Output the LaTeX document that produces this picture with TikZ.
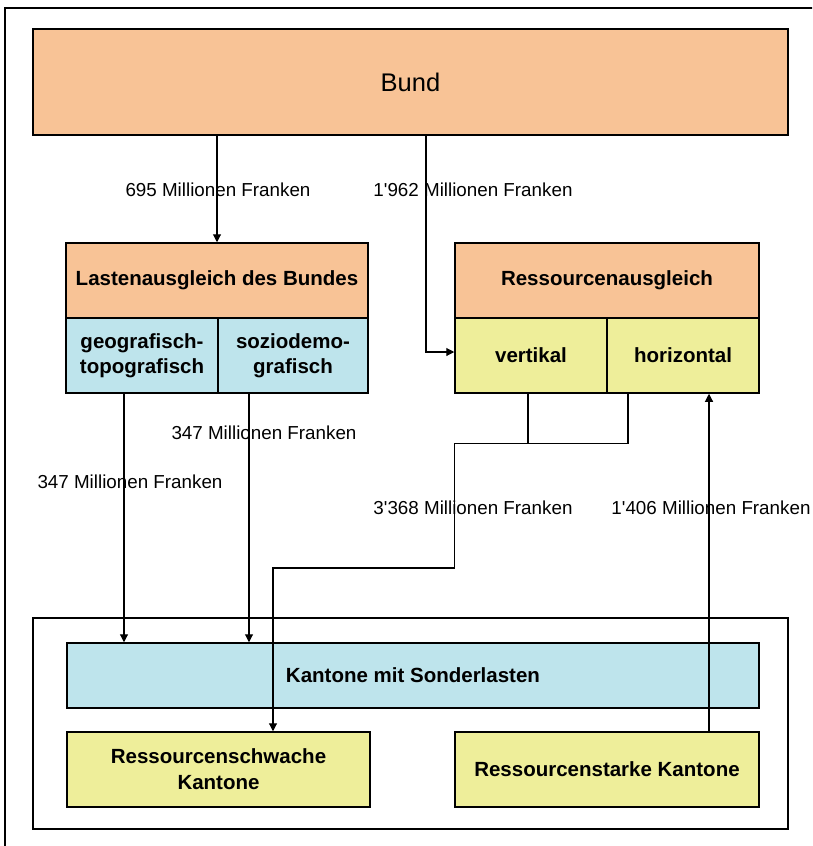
\documentclass[tikz,border=0pt]{standalone}
\usepackage{fontspec}
\setmainfont{Liberation Sans}
\usetikzlibrary{arrows.meta}
\definecolor{bundorange}{HTML}{F8C396}
\definecolor{lastblue}{HTML}{BEE4EC}
\definecolor{resyellow}{HTML}{EEEE9A}

\begin{document}
\begin{tikzpicture}[x=1pt,y=-1pt,>={Triangle[length=8pt,width=8pt]},
  box/.style={draw,line width=1.5pt,minimum width=#1,minimum height=75pt,inner sep=0pt,
    align=center,font=\bfseries\fontsize{20.5}{25}\selectfont},
  box/.default=152pt,
  betrag/.style={inner sep=0pt,font=\fontsize{18.8}{22}\selectfont},
  leitung/.style={line width=1.1pt},
  flow/.style={->,line width=1.1pt}]

\useasboundingbox (0,0) rectangle (812,846);
\clip (0,0) rectangle (812,846);

% outer frame
\draw[line width=2pt] (5,8) rectangle (840,880);

% Bund
\node[box=755pt,minimum height=106pt,fill=bundorange,font=\fontsize{25.5}{28}\selectfont] (bund) at (410.5,82) {Bund};

% Lastenausgleich des Bundes
\node[box=302pt,fill=bundorange] (lasten) at (217,280.5) {Lastenausgleich des Bundes};
\node[box,fill=lastblue] (geo) at (142,355.5) {geografisch-\\topografisch};
\node[box=150pt,fill=lastblue] (sozio) at (293,355.5) {soziodemo-\\grafisch};

% Ressourcenausgleich
\node[box=304pt,fill=bundorange] (ress) at (607,280.5) {Ressourcenausgleich};
\node[box,fill=resyellow] (vert) at (531,355.5) {vertikal};
\node[box,fill=resyellow] (horiz) at (683,355.5) {horizontal};

% Kantone
\draw[line width=1.5pt] (33,618) rectangle (788,829);
\node[box=692pt,minimum height=65pt,fill=lastblue] (sonder) at (413,675.5) {Kantone mit Sonderlasten};
\node[box=303pt,fill=resyellow,font=\bfseries\fontsize{20.5}{26}\selectfont] (schwach) at (218.5,769.5) {Ressourcenschwache\\Kantone};
\node[box=304pt,fill=resyellow] (stark) at (607,769.5) {Ressourcenstarke Kantone};

% bend points
\coordinate (g1) at ([xshift=-18pt]geo.south);
\coordinate (s1) at ([xshift=-44pt]sozio.south);
\coordinate (v1) at ([xshift=-3pt]vert.south);
\coordinate (h1) at ([xshift=-55pt]horiz.south);
\coordinate (knick1) at ([yshift=-50pt]vert.south west);
\coordinate (knick2) at (273,568);
\coordinate (st1) at ([xshift=102pt]stark.north);

% flows
\draw[flow] (bund.south -| lasten.north) -- (lasten.north);
\draw[flow] ([xshift=15.5pt]bund.south) |- ([yshift=3.5pt]vert.west);
\draw[flow] (g1) -- (g1 |- sonder.north);
\draw[flow] (s1) -- (s1 |- sonder.north);
\draw[leitung] (v1) -- (v1 |- knick1);
\draw[flow] (h1) |- (knick1) |- (knick2) -- (knick2 |- schwach.north);
\draw[flow] (st1) -- (st1 |- horiz.south);

% amounts
\node[betrag] (b695) at (218,190) {695 Millionen Franken};
\node[betrag] (b1962) at (473,190) {1\textquotesingle962 Millionen Franken};
\node[betrag] (b347a) at (130,482) {347 Millionen Franken};
\node[betrag] (b347b) at (264,433) {347 Millionen Franken};
\node[betrag] (b3368) at (473,508) {3\textquotesingle368 Millionen Franken};
\node[betrag] (b1406) at (711,508) {1\textquotesingle406 Millionen Franken};

\end{tikzpicture}
\end{document}
